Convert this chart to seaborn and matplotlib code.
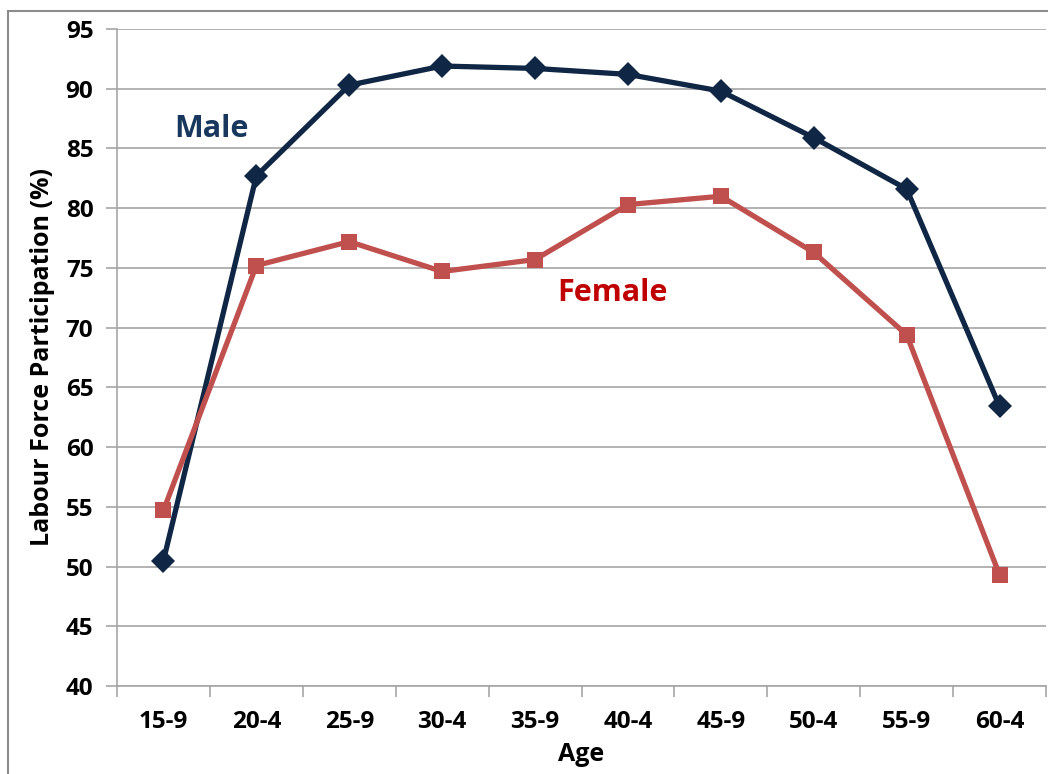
import matplotlib
matplotlib.use("Agg")
import matplotlib.pyplot as plt
from matplotlib.patches import Rectangle
import seaborn as sns
import pandas as pd

age_groups = ["15-9", "20-4", "25-9", "30-4", "35-9", "40-4", "45-9", "50-4", "55-9", "60-4"]
male = [50.5, 82.7, 90.3, 91.9, 91.7, 91.2, 89.8, 85.9, 81.6, 63.4]
female = [54.7, 75.2, 77.2, 74.7, 75.7, 80.3, 81.0, 76.3, 69.4, 49.3]
y_ticks = [40, 45, 50, 55, 60, 65, 70, 75, 80, 85, 90, 95]

male_color = "#0f2745"
female_color = "#c0504d"

sns.set_theme(style="white", rc={"text.color": "black", "axes.labelcolor": "black",
                                 "xtick.color": "black", "ytick.color": "black"})
plt.rcParams["font.family"] = ["Open Sans", "DejaVu Sans"]

df = pd.DataFrame({
    "Age": age_groups * 2,
    "Rate": male + female,
    "Sex": ["Male"] * len(male) + ["Female"] * len(female),
})

fig = plt.figure(figsize=(10.48, 7.74), dpi=100)
ax = fig.add_axes([117 / 1048, 1 - 686 / 774, 929 / 1048, 657 / 774])

sns.lineplot(
    data=df, x="Age", y="Rate", hue="Sex", style="Sex",
    palette={"Male": male_color, "Female": female_color},
    markers={"Male": "D", "Female": "s"}, dashes=False,
    markersize=12, linewidth=3.8, markeredgewidth=0,
    sort=False, legend=False, ax=ax,
)

ax.set_xlim(-0.5, len(age_groups) - 0.5)
ax.set_ylim(40, 95)
ax.set_yticks(y_ticks)
ax.set_xticks(range(len(age_groups)))
ax.set_xticklabels(age_groups)
ax.set_xticks([i - 0.5 for i in range(len(age_groups) + 1)], minor=True)
ax.tick_params(axis="x", which="major", length=0, pad=17, labelsize=17.5, labelcolor="black")
ax.tick_params(axis="x", which="minor", length=8, color="#a6a6a6", width=1.2, direction="out", bottom=True)
ax.tick_params(axis="y", length=8, color="#a6a6a6", width=1.2, direction="out", left=True, pad=9,
               labelsize=17.5, labelcolor="black")
for lbl in ax.get_xticklabels() + ax.get_yticklabels():
    lbl.set_fontweight("bold")

ax.grid(axis="y", color="#a6a6a6", linewidth=1.2)
ax.set_axisbelow(True)
for side in ["top", "right"]:
    ax.spines[side].set_visible(False)
for side in ["left", "bottom"]:
    ax.spines[side].set_color("#a6a6a6")
    ax.spines[side].set_linewidth(1.2)

ax.set_xlabel("Age", fontsize=18, fontweight="bold", labelpad=6, color="black")
ax.set_ylabel("Labour Force Participation (%)", fontsize=18, fontweight="bold", labelpad=8, color="black")

ax.text(0.12, 86.6, "Male", color="#17375e", fontsize=22, fontweight="bold", ha="left", va="center")
ax.text(4.83, 72.9, "Female", color="#c00000", fontsize=22, fontweight="bold", ha="center", va="center")

# outer chart frame
fig.patches.append(Rectangle((8 / 1048, -0.05), 1.1, 1 - 11 / 774 + 0.05,
                             transform=fig.transFigure, fill=False,
                             edgecolor="#8c8c8c", linewidth=1.5, clip_on=False))

fig.savefig("out.png", dpi=100)
